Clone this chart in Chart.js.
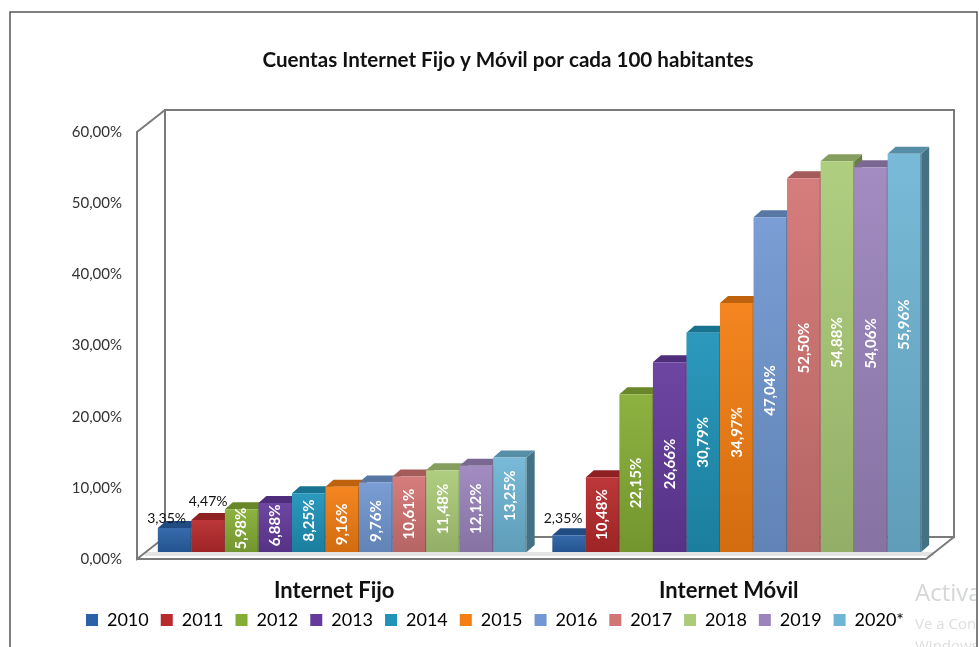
<!DOCTYPE html>
<html>
<head>
<meta charset="utf-8">
<title>Cuentas Internet</title>
<script src="https://cdn.jsdelivr.net/npm/chart.js@4"></script>
<style>
    html, body { margin: 0; padding: 0; background: #fff; }
    #wrap { width: 979px; height: 647px; position: relative; }
</style>
</head>
<body>
<div id="wrap"><canvas id="myChart" width="979" height="647"></canvas></div>
<script>
// ---------------------------------- data ----------------------------------
const categories = ["Internet Fijo", "Internet Móvil"];
const years = ["2010", "2011", "2012", "2013", "2014", "2015", "2016", "2017", "2018", "2019", "2020*"];
const fijo = [3.35, 4.47, 5.98, 6.88, 8.25, 9.16, 9.76, 10.61, 11.48, 12.12, 13.25];
const movil = [2.35, 10.48, 22.15, 26.66, 30.79, 34.97, 47.04, 52.50, 54.88, 54.06, 55.96];
const tickValues = [0, 10, 20, 30, 40, 50, 60];

// ---------------------------------- styles ---------------------------------
const seriesColors = ["#2a62a8", "#b82a2c", "#86ad35", "#643a9c", "#1f93b8", "#f47e12",
    "#7198d2", "#d27574", "#abcb78", "#9c85bd", "#6fb6d6"];
const font = "Lato";
const depthX = 8;
const depthY = 7;
const wallX = 28;
const wallY = 22;

// white labels sit a little off the middle of each bar (pixels, up is positive)
const labelLift = [
    [0, 0, 2, 2, 2, -5, -4, 0, 2, 0, 9],
    [0, 0, -10, -7, 0, -5, -6, 17, 14, 16, 28]
];

const shade = (hex, k) => {
    const n = parseInt(hex.slice(1), 16);
    const c = [n >> 16, (n >> 8) & 255, n & 255].map(v => Math.round(k < 1 ? v * k : v + (255 - v) * (k - 1)));
    return `rgb(${c[0]},${c[1]},${c[2]})`;
};

const formatPct = v => v.toFixed(2).replace(".", ",") + "%";

// ---------------------------------- bar fill --------------------------------
const barFill = (ctx) => {
    const color = seriesColors[ctx.datasetIndex];
    const scale = ctx.chart.scales.yBars;
    if (!scale || !ctx.chart.chartArea || !ctx.parsed) return color;
    const g = ctx.chart.ctx.createLinearGradient(0, scale.getPixelForValue(ctx.parsed.y), 0, scale.getPixelForValue(0));
    g.addColorStop(0, shade(color, 1.06));
    g.addColorStop(1, shade(color, 0.86));
    return g;
};

const datasets = years.map((year, i) => ({
    label: year,
    data: [fijo[i], movil[i]],
    yAxisID: "yBars",
    backgroundColor: barFill,
    borderWidth: 0,
    categoryPercentage: 0.935,
    barPercentage: 1
}));

// ---------------------------------- 3d box behind the bars -------------------
const framePlugin = {
    id: "frame",
    beforeDatasetsDraw(chart) {
        const { ctx, chartArea: a } = chart;
        const y = chart.scales.y;
        const left = a.left - depthX;
        const right = a.right - depthX;
        const top = y.getPixelForValue(60);
        const bottom = y.getPixelForValue(0);

        ctx.save();
        // outer border of the picture
        ctx.strokeStyle = "#555";
        ctx.lineWidth = 1.5;
        ctx.beginPath();
        ctx.moveTo(10, 647);
        ctx.lineTo(10, 12);
        ctx.lineTo(977, 12);
        ctx.lineTo(977, 647);
        ctx.stroke();

        // shadow on the floor
        ctx.fillStyle = "#e4e4e4";
        ctx.fillRect(a.left, bottom - 7, right - a.left + 8, 4);

        ctx.strokeStyle = "#7a7a7a";
        ctx.lineWidth = 2;
        ctx.beginPath();
        // back wall
        ctx.moveTo(left + wallX, bottom - wallY);
        ctx.lineTo(left + wallX, top - wallY);
        ctx.lineTo(right + wallX, top - wallY);
        ctx.lineTo(right + wallX, bottom - wallY);
        ctx.lineTo(left + wallX, bottom - wallY);
        // side wall and floor
        ctx.moveTo(left + wallX, top - wallY);
        ctx.lineTo(left, top);
        ctx.lineTo(left, bottom);
        ctx.lineTo(left + wallX, bottom - wallY);
        ctx.moveTo(left, bottom);
        ctx.lineTo(right, bottom);
        ctx.lineTo(right + wallX, bottom - wallY);
        ctx.stroke();

        // side and top faces of every bar, fronts are painted over them afterwards
        years.forEach((year, i) => {
            chart.getDatasetMeta(i).data.forEach(bar => {
                const x0 = bar.x - bar.width / 2;
                const x1 = bar.x + bar.width / 2;
                ctx.fillStyle = shade(seriesColors[i], 0.62);
                ctx.beginPath();
                ctx.moveTo(x1, bar.y);
                ctx.lineTo(x1 + depthX, bar.y - depthY);
                ctx.lineTo(x1 + depthX, bar.base - depthY);
                ctx.lineTo(x1, bar.base);
                ctx.closePath();
                ctx.fill();
                ctx.fillStyle = shade(seriesColors[i], 0.78);
                ctx.beginPath();
                ctx.moveTo(x0, bar.y);
                ctx.lineTo(x0 + depthX, bar.y - depthY);
                ctx.lineTo(x1 + depthX, bar.y - depthY);
                ctx.lineTo(x1, bar.y);
                ctx.closePath();
                ctx.fill();
            });
        });
        ctx.restore();
    }
};

// ---------------------------------- value labels -----------------------------
const labelPlugin = {
    id: "valueLabels",
    afterDatasetsDraw(chart) {
        const { ctx } = chart;
        ctx.save();
        ctx.textAlign = "center";
        ctx.textBaseline = "middle";
        years.forEach((year, i) => {
            chart.getDatasetMeta(i).data.forEach((bar, c) => {
                const value = (c === 0 ? fijo : movil)[i];
                const text = formatPct(value);
                // thin dark seam between neighbouring bars
                ctx.fillStyle = "rgba(60,60,60,0.35)";
                ctx.fillRect(bar.x + bar.width / 2 - 1, bar.y, 1, bar.base - bar.y);
                if (value < 5) {
                    // too short to hold the text, goes above in black
                    ctx.fillStyle = "#111";
                    ctx.font = `14px ${font}`;
                    ctx.fillText(text, bar.x + (i === 0 && c === 0 ? -8 : (c === 1 ? -6 : 0)), bar.y - (c === 1 ? 17 : (i === 0 ? 10 : 19)));
                } else {
                    ctx.save();
                    ctx.translate(bar.x, (bar.y + bar.base) / 2 - labelLift[c][i]);
                    ctx.rotate(-Math.PI / 2);
                    ctx.fillStyle = "#fff";
                    ctx.font = `bold 15px ${font}`;
                    ctx.fillText(text, 0, 0);
                    ctx.restore();
                }
            });
        });
        ctx.restore();
    }
};

// ---------------------------------- leftover screen text ----------------------
const screenTextPlugin = {
    id: "screenText",
    afterDraw(chart) {
        const { ctx } = chart;
        ctx.save();
        ctx.beginPath();
        ctx.rect(880, 570, 96, 77);
        ctx.clip();
        ctx.textBaseline = "middle";
        ctx.fillStyle = "#d4d6d8";
        ctx.font = `24px "Open Sans"`;
        ctx.fillText("Activar Windows", 915, 594);
        ctx.fillStyle = "#dcdee0";
        ctx.font = `15px "Open Sans"`;
        ctx.fillText("Ve a Configuración", 915, 625);
        ctx.fillText("Windows.", 915, 647);
        ctx.restore();
    }
};

// title is centred on the plot, legend sits close under the category names
const blockShiftPlugin = {
    id: "blockShift",
    afterLayout(chart) {
        chart.titleBlock.left += 13;
        chart.titleBlock.right += 13;
        chart.legend.top -= 6;
        chart.legend.bottom -= 6;
    }
};

new Chart(document.getElementById("myChart"), {
    type: "bar",
    data: { labels: categories, datasets },
    plugins: [framePlugin, labelPlugin, screenTextPlugin, blockShiftPlugin],
    options: {
        responsive: false,
        animation: false,
        layout: { padding: { left: 56, right: 45, top: 0, bottom: 2 } },
        plugins: {
            tooltip: { enabled: false },
            title: {
                display: true,
                text: "Cuentas Internet Fijo y Móvil por cada 100 habitantes",
                color: "#111",
                font: { family: font, size: 20.6, weight: "bold" },
                padding: { top: 47.6, bottom: 59.7 }
            },
            legend: {
                position: "bottom",
                labels: {
                    color: "#333",
                    font: { family: font, size: 18 },
                    boxWidth: 12,
                    boxHeight: 12,
                    padding: 12,
                    generateLabels: () => years.map((year, i) => ({
                        text: year,
                        fillStyle: seriesColors[i],
                        strokeStyle: seriesColors[i],
                        lineWidth: 0,
                        datasetIndex: i
                    }))
                }
            }
        },
        scales: {
            x: {
                afterFit: scale => { scale.height = 46; },
                grid: { display: false, drawTicks: false },
                border: { display: false },
                ticks: {
                    color: "#111",
                    padding: 19,
                    labelOffset: -8,
                    maxRotation: 0,
                    font: { family: font, size: 22, weight: "bold" }
                }
            },
            y: {
                min: 0,
                max: 60,
                afterBuildTicks: scale => { scale.ticks = tickValues.map(value => ({ value })); },
                afterFit: scale => { scale.width = 89; },
                grid: { display: false, drawTicks: false },
                border: { display: false },
                ticks: {
                    color: "#333",
                    padding: 23,
                    font: { family: font, size: 15 },
                    callback: v => formatPct(v)
                }
            },
            // same pixels per unit as y, bars stand one unit up from the front edge of the floor
            yBars: { display: false, min: -1, max: 59 }
        }
    }
});
</script>
</body>
</html>
